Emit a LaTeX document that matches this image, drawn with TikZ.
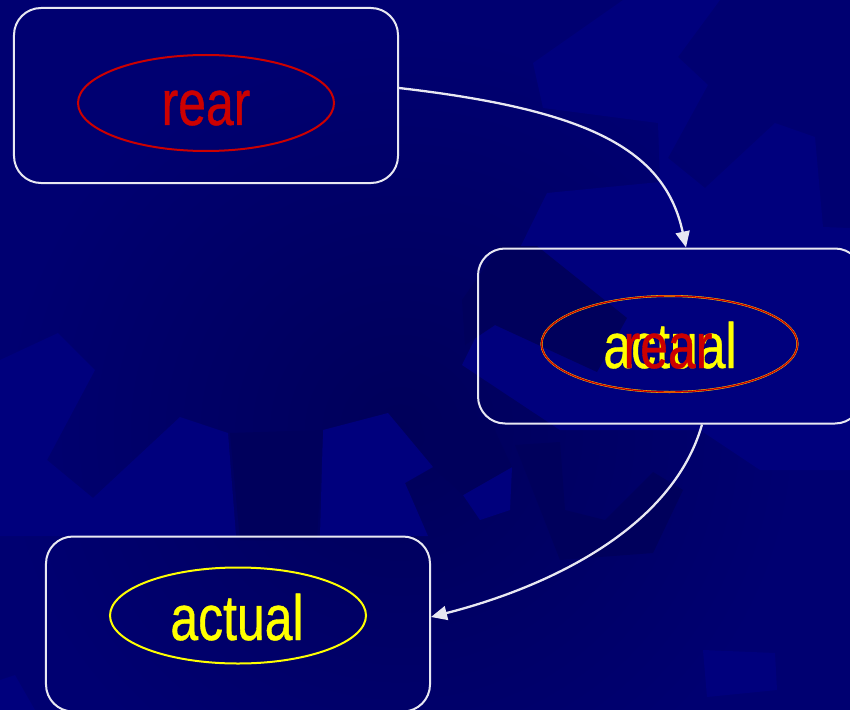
\documentclass[tikz,border=0pt]{standalone}
\usepackage{fontspec}
\usetikzlibrary{arrows.meta,shapes.geometric,calc}
\newfontfamily\labelfont[FakeStretch=0.78,FakeBold=0.6]{Liberation Sans}

\definecolor{bgbase}{HTML}{000071}
\definecolor{bgdark}{HTML}{00005A}
\definecolor{bglight}{HTML}{00007D}
\definecolor{bgdeep}{HTML}{00005C}
\definecolor{framecol}{HTML}{E8E8F2}
\definecolor{redlab}{HTML}{CC0000}
\definecolor{yellab}{HTML}{FFFF00}

\tikzset{
  framebox/.style={draw=framecol, line width=2bp, rounded corners=27bp,
    minimum width=384bp, minimum height=175bp, inner sep=0pt},
  ring/.style={ellipse, line width=2bp, minimum width=256bp,
    minimum height=96bp, inner sep=0pt},
  labeltext/.style={anchor=base, inner sep=0pt,
    font=\labelfont\fontsize{64.25}{70}\selectfont},
  flow/.style={draw=framecol, line width=2.3bp,
    -{Triangle[length=16bp,width=14bp]}},
  lightpatch/.style={fill=bglight},
  darkpatch/.style={fill=bgdeep}
}

\begin{document}
\begin{tikzpicture}[x=1bp,y=-1bp]
\useasboundingbox (0,0) rectangle (850,710);

% backdrop: navy with a darker centre and faint gear teeth
\begin{scope}
\clip (0,0) rectangle (850,710);
\fill[bgbase] (0,0) rectangle (850,710);
\shade[inner color=bgdark, outer color=bgbase] (400,430) circle (400);
\fill[lightpatch] (0,360) -- (58,333) -- (95,370) -- (47,460) -- (93,498)
  -- (180,417) -- (228,433) -- (236,536) -- (0,536) -- cycle;
\fill[lightpatch] (323,430) -- (388,413) -- (433,467) -- (405,483)
  -- (428,536) -- (320,536) -- cycle;
\fill[lightpatch] (533,63) -- (623,0) -- (720,0) -- (678,57) -- (708,85)
  -- (668,158) -- (705,188) -- (775,123) -- (815,137) -- (823,227)
  -- (850,228) -- (850,470) -- (760,470) -- (700,430) -- (560,430)
  -- (462,365) -- (547,193) -- (660,182) -- (658,123) -- (543,108) -- cycle;
\fill[lightpatch] (463,495) -- (512,467) -- (510,510) -- (480,520) -- cycle;
\fill[lightpatch] (703,650) -- (775,653) -- (777,690) -- (707,697) -- cycle;
\fill[lightpatch] (0,680) -- (15,675) -- (35,710) -- (0,710) -- cycle;
\fill[darkpatch] (537,246) -- (627,318) -- (597,372) -- (495,325)
  -- (465,345) -- (462,300) -- (500,246) -- cycle;
\fill[darkpatch] (420,420) -- (490,420) -- (512,467) -- (463,495)
  -- (433,467) -- cycle;
\fill[darkpatch] (515,445) -- (560,442) -- (565,510) -- (605,520)
  -- (653,472) -- (683,490) -- (653,553) -- (560,560) -- cycle;
\fill[darkpatch] (230,433) -- (323,430) -- (317,540) -- (240,540) -- cycle;
\end{scope}

% frames
\node[framebox] (b1) at (206,95.5) {};
\node[framebox] (b2) at (670,336) {};
\node[framebox] (b3) at (238,624) {};

% rings
\node[ring, draw=redlab] (e1) at (206,103) {};
\node[ring, draw=yellab] (e2y) at (669.5,344) {};
\node[ring, draw=redlab, line width=1.4bp] (e2r) at (669.5,344) {};
\node[ring, draw=yellab] (e3) at (238,615.5) {};

% labels
\node[labeltext, text=redlab] (t1) at (206,125) {rear};
\node[labeltext, text=yellab] (t2a) at (670,368) {actual};
\node[labeltext, text=redlab] (t2r) at (668,368) {rear};
\node[labeltext, text=yellab] (t3) at (237,640) {actual};

% connectors
\draw[flow] ([yshift=7.5bp]b1.east)
  .. controls (590,110) and (665,150) .. ([xshift=16bp]b2.north);
\draw[flow] ([xshift=32bp]b2.south)
  .. controls (672,530) and (545,588) .. ([yshift=7bp]b3.east);
\end{tikzpicture}
\end{document}
